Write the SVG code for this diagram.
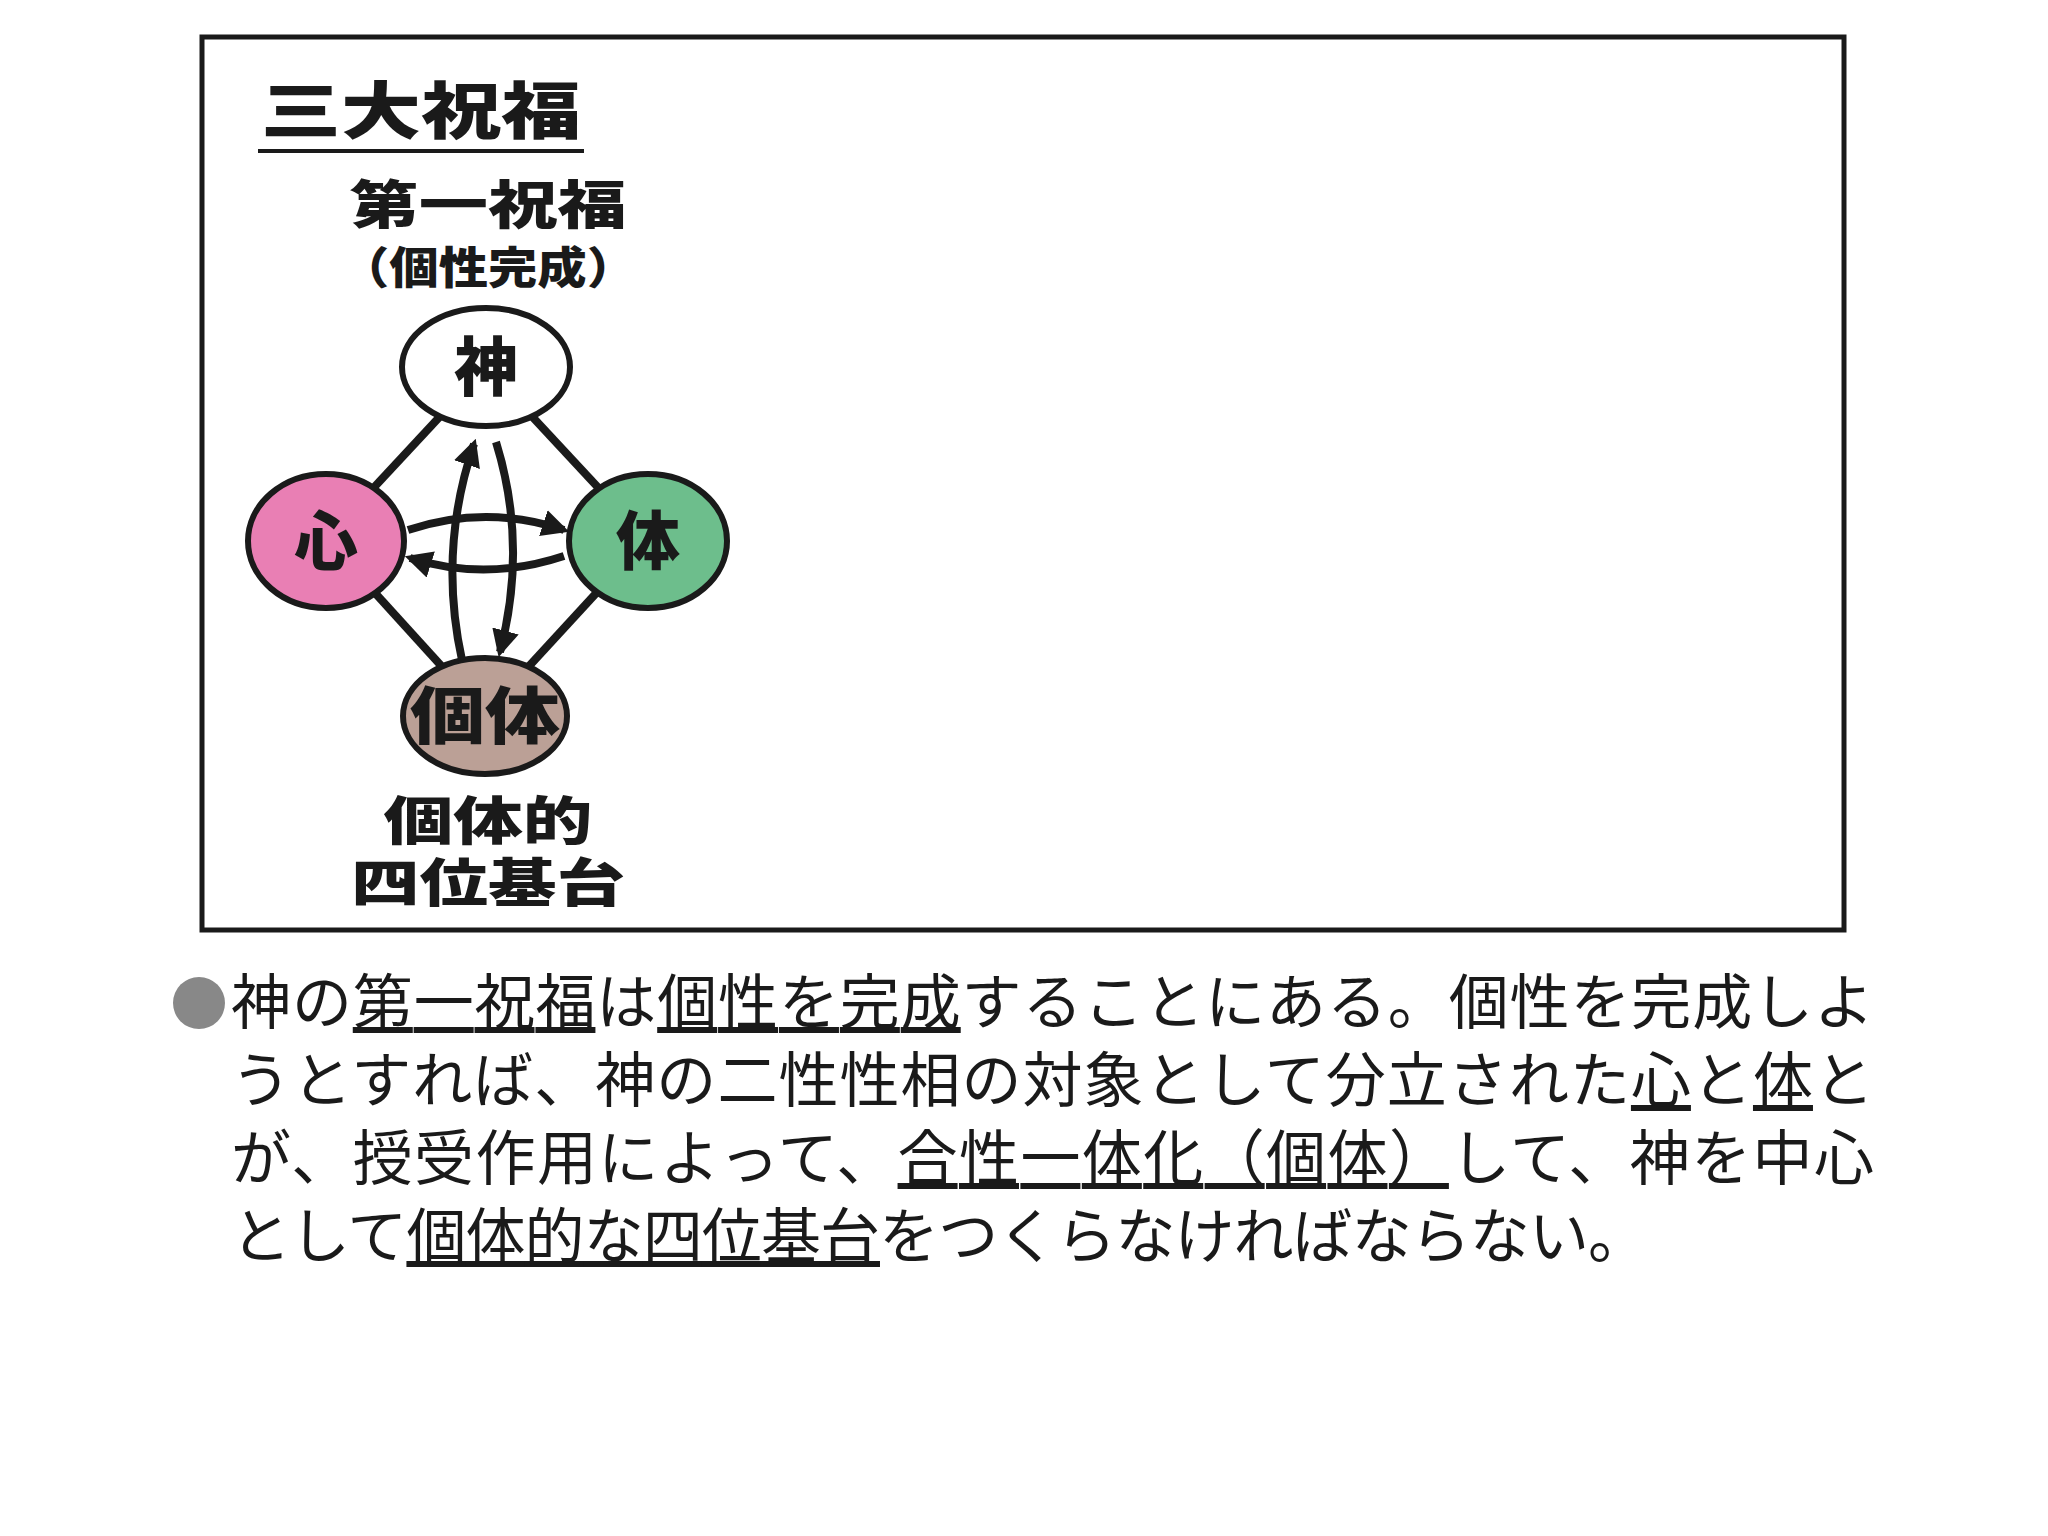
<svg xmlns="http://www.w3.org/2000/svg" width="2048" height="1536" viewBox="0 0 2048 1536">
<defs>
<style>
.b{font-family:"Noto Sans CJK JP","Noto Sans CJK SC",sans-serif;font-weight:900;fill:#1a1a1a;text-anchor:middle}
.p{font-family:"Noto Sans CJK JP","Noto Sans CJK SC",sans-serif;font-weight:400;fill:#1a1a1a;font-size:60px}
.u{text-decoration:underline}
.ln{stroke:#1a1a1a;stroke-width:8;fill:none}
.ar{stroke:#1a1a1a;stroke-width:8;fill:none;marker-end:url(#ah)}
.nd{stroke:#1a1a1a;stroke-width:6}
</style>
<marker id="ah" viewBox="0 0 10 10" refX="8" refY="5" markerWidth="3.4" markerHeight="3.4" orient="auto" markerUnits="strokeWidth"><path d="M0,0 L10,5 L0,10 z" fill="#1a1a1a"/></marker>
</defs>
<rect width="2048" height="1536" fill="#fff"/>
<rect x="202" y="37" width="1642" height="893" fill="none" stroke="#1a1a1a" stroke-width="5"/>
<g id="title">
<text class="b" x="421" y="134" font-size="62" textLength="320" lengthAdjust="spacingAndGlyphs">三大祝福</text>
<line x1="258" y1="151" x2="584" y2="151" stroke="#1a1a1a" stroke-width="4"/>
<text class="b" x="488" y="224" font-size="52" textLength="277" lengthAdjust="spacingAndGlyphs">第一祝福</text>
<text class="b" x="488" y="284" font-size="44" textLength="296" lengthAdjust="spacingAndGlyphs">（個性完成）</text>
</g>
<g id="connectors">
<line class="ln" x1="486" y1="367" x2="326" y2="539"/>
<line class="ln" x1="486" y1="367" x2="646" y2="539"/>
<line class="ln" x1="326" y1="539" x2="485" y2="714"/>
<line class="ln" x1="646" y1="539" x2="485" y2="714"/>
</g>
<g id="n-shin"><ellipse class="nd" cx="486" cy="367" rx="84" ry="59" fill="#fff"/><text class="b" x="486" y="390" font-size="64">神</text></g>
<g id="n-kokoro"><ellipse class="nd" cx="326" cy="541" rx="78" ry="67" fill="#e97fb4"/><text class="b" x="326" y="564" font-size="64">心</text></g>
<g id="n-karada"><ellipse class="nd" cx="648" cy="541" rx="79" ry="67" fill="#6dbe8c"/><text class="b" x="648" y="564" font-size="64">体</text></g>
<g id="n-kotai"><ellipse class="nd" cx="485" cy="716" rx="82" ry="58" fill="#bba096"/><text class="b" x="485" y="739" font-size="62" textLength="150" lengthAdjust="spacingAndGlyphs">個体</text></g>
<g id="arrows">
<path class="ar" d="M462,660 Q438,550 474,444"/>
<path class="ar" d="M496,442 Q528,545 500,652"/>
<path class="ar" d="M408,530 Q486,504 564,530"/>
<path class="ar" d="M564,556 Q486,582 410,558"/>
</g>
<g id="bottom">
<text class="b" x="488" y="840" font-size="52" textLength="209" lengthAdjust="spacingAndGlyphs">個体的</text>
<text class="b" x="488" y="902" font-size="52" textLength="274" lengthAdjust="spacingAndGlyphs">四位基台</text>
</g>
<g id="para">
<circle cx="199" cy="1003" r="26" fill="#888"/>
<text class="p" x="231" y="1024" textLength="1643" lengthAdjust="spacing">神の<tspan class="u">第一祝福</tspan>は<tspan class="u">個性を完成</tspan>することにある。個性を完成しよ</text>
<text class="p" x="231" y="1102" textLength="1643" lengthAdjust="spacing">うとすれば、神の二性性相の対象として分立された<tspan class="u">心</tspan>と<tspan class="u">体</tspan>と</text>
<text class="p" x="231" y="1180" textLength="1643" lengthAdjust="spacing">が、授受作用によって、<tspan class="u">合性一体化（個体）</tspan>して、神を中心</text>
<text class="p" x="231" y="1258" textLength="1417" lengthAdjust="spacing">として<tspan class="u">個体的な四位基台</tspan>をつくらなければならない。</text>
</g>
</svg>
